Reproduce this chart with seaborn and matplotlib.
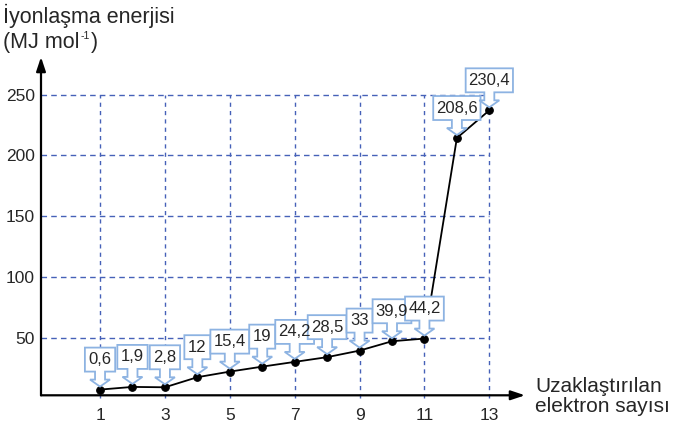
import numpy as np
import pandas as pd
import matplotlib
matplotlib.use("Agg")
import matplotlib.pyplot as plt
import matplotlib.transforms as mtransforms
from matplotlib.patches import Polygon
import seaborn as sns

# data
electron_no = [1, 2, 3, 4, 5, 6, 7, 8, 9, 10, 11, 12, 13]
energy_plot = [7.2, 9.4, 9.1, 17.4, 22.0, 26.1, 30.0, 33.9, 39.3, 47.0, 49.2, 214.3, 237.1]
energy_labels = ["0,6", "1,9", "2,8", "12", "15,4", "19", "24,2", "28,5", "33",
                 "39,9", "44,2", "208,6", "230,4"]
y_ticks = [50, 100, 150, 200, 250]
x_ticks = [1, 3, 5, 7, 9, 11, 13]

df = pd.DataFrame({"n": electron_no, "E": energy_plot, "label": energy_labels})

sns.set_style("white")
plt.rcParams["font.family"] = ["Liberation Sans", "DejaVu Sans"]

fig = plt.figure(figsize=(6.74, 4.25), dpi=100)
ax = fig.add_axes([41 / 674, (425 - 395.3) / 425, (525 - 41) / 674, (395.3 - 57) / 425])
ax.set_xlim(-0.82, 14.1)
ax.set_ylim(2.5, 281)

grid_col = "#4661b8"
ax.hlines(y_ticks, -0.82, 13, colors=grid_col, linestyles=(0, (4, 3)), lw=1.0, zorder=1)
ax.vlines(x_ticks, 0.0, 250, colors=grid_col, linestyles=(0, (3, 3)), lw=1.0, zorder=1, clip_on=False)

sns.lineplot(data=df, x="n", y="E", ax=ax, color="black", lw=1.3, marker="o",
             markersize=5.5, markeredgecolor="black", zorder=3)

# callouts (pixel shape placed on each point)
box_col = "#8db3e2"
for xv, yv, lab in zip(df["n"], df["E"], df["label"]):
    nd = len(lab.replace(",", ""))
    w = 9 + 8.5 * nd + 4.3 * lab.count(",")
    hw = w / 2
    verts = [(0, 3), (10, 10), (5, 10), (5, 18), (hw, 18), (hw, 42), (-hw, 42),
             (-hw, 18), (-5, 18), (-5, 10), (-10, 10)]
    tr = mtransforms.Affine2D().scale(fig.dpi / 100) + \
        mtransforms.ScaledTranslation(xv, yv, ax.transData)
    ax.add_patch(Polygon(verts, closed=True, facecolor="white", edgecolor=box_col,
                         lw=1.3, transform=tr, zorder=4, clip_on=False))
    ax.annotate(lab, xy=(xv, yv), xytext=(0, 30), textcoords="offset pixels",
                ha="center", va="center", fontsize=12, zorder=5)

# axes as arrows
for s in ax.spines.values():
    s.set_visible(False)
ax.annotate("", xy=(1, 0), xytext=(0, 0), xycoords="axes fraction",
            arrowprops=dict(arrowstyle="-|>,head_length=0.6,head_width=0.2",
                            color="black", lw=1.6, mutation_scale=14, shrinkA=0, shrinkB=0))
ax.annotate("", xy=(0, 1), xytext=(0, 0), xycoords="axes fraction",
            arrowprops=dict(arrowstyle="-|>,head_length=0.6,head_width=0.2",
                            color="black", lw=1.6, mutation_scale=14, shrinkA=0, shrinkB=0))

ax.set_xticks(x_ticks)
ax.set_yticks(y_ticks)
ax.tick_params(axis="x", length=0, pad=9, labelsize=12.5)
ax.tick_params(axis="y", length=0, pad=4.5, labelsize=12.5)
ax.set_xlabel("")
ax.set_ylabel("")

fig.text(3 / 674, 1 - 23.5 / 425, "İyonlaşma enerjisi", fontsize=15.5, va="baseline", ha="left")
# second line of y title with a hand-made superscript
t1 = fig.text(3 / 674, 1 - 47.7 / 425, "(MJ mol", fontsize=15.5, va="baseline", ha="left")
fig.canvas.draw()
r = fig.canvas.get_renderer()
x1 = t1.get_window_extent(r).x1 + 1
t2 = fig.text(x1 / 674, 1 - 39 / 425, "-1", fontsize=7.5, va="baseline", ha="left")
x2 = t2.get_window_extent(r).x1 + 1
fig.text(x2 / 674, 1 - 47.7 / 425, ")", fontsize=15.5, va="baseline", ha="left")

fig.text(535 / 674, 1 - 391.7 / 425, "Uzaklaştırılan", fontsize=15, va="baseline", ha="left")
fig.text(535 / 674, 1 - 411.7 / 425, "elektron sayısı", fontsize=15, va="baseline", ha="left")

fig.savefig("out.png", dpi=100)
